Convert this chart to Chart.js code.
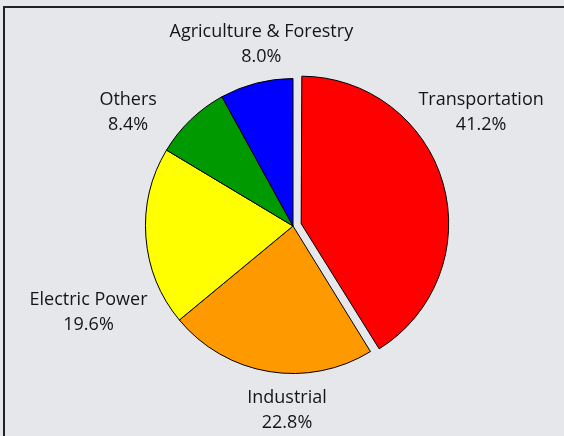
<!DOCTYPE html>
<html lang="en">
<head>
  <meta charset="UTF-8">
  <title>Emissions by Sector</title>
  <script src="https://cdn.jsdelivr.net/npm/chart.js"></script>
  <style>
    html, body { margin: 0; padding: 0; background: #e6e7eb; }
    canvas { display: block; }
  </style>
</head>
<body>
  <canvas id="sectorPie" width="564" height="436"></canvas>

  <script>
    // sectors, clockwise from 12 o'clock
    const sectors = ['Transportation', 'Industrial', 'Electric Power', 'Others', 'Agriculture & Forestry'];
    const shares = [41.2, 22.8, 19.6, 8.4, 8.0];
    const sliceColors = ['#ff0000', '#ff9900', '#ffff00', '#009900', '#0000ff'];
    // chart.js v4 moves an arc by offset / 4, so 34 pulls transportation out ~8.5px
    const pulledOut = [34, 0, 0, 0, 0];

    // where each two-line label sits: degrees rotated from the slice middle, distance from pie centre
    const labelTurn = [-15.4, -7.5, -18.6, -11.6, 4.5];
    const labelDist = [220, 184, 222, 200, 184];

    const frameAndLabels = {
      id: 'frameAndLabels',
      afterDatasetsUpdate(chart) {
        // an offset arc is also drawn with a bigger radius; take that back so
        // the pulled-out slice keeps the same size as the rest
        chart.getDatasetMeta(0).data.forEach(arc => {
          const off = (arc.options.offset || 0) / 4;
          const fix = 1 - Math.sin(Math.min(Math.PI, arc.circumference));
          arc.outerRadius -= off * fix;
        });
      },
      beforeDraw(chart) {
        const ctx = chart.ctx;
        ctx.save();
        ctx.fillStyle = '#e6e7eb';
        ctx.fillRect(0, 0, chart.width, chart.height);
        ctx.strokeStyle = '#222';
        ctx.lineWidth = 2;
        ctx.beginPath();
        ctx.moveTo(chart.width, 7);
        ctx.lineTo(4, 7);
        ctx.lineTo(4, chart.height);
        ctx.stroke();
        ctx.restore();
      },
      afterDatasetsDraw(chart) {
        const ctx = chart.ctx;
        const arcs = chart.getDatasetMeta(0).data;
        ctx.save();
        ctx.fillStyle = '#151515';
        ctx.font = '18px "Open Sans", sans-serif';
        ctx.textAlign = 'center';
        ctx.textBaseline = 'middle';
        arcs.forEach((arc, i) => {
          const a = (arc.startAngle + arc.endAngle) / 2 + labelTurn[i] * Math.PI / 180;
          const x = arc.x + Math.cos(a) * labelDist[i];
          const y = arc.y + Math.sin(a) * labelDist[i];
          ctx.fillText(sectors[i], x, y - 12.5);
          ctx.fillText(shares[i].toFixed(1) + '%', x, y + 12.5);
        });
        ctx.restore();
      }
    };

    new Chart(document.getElementById('sectorPie'), {
      type: 'pie',
      data: {
        labels: sectors,
        datasets: [{
          data: shares,
          backgroundColor: sliceColors,
          borderColor: '#000',
          borderWidth: 1,
          offset: pulledOut
        }]
      },
      options: {
        responsive: false,
        devicePixelRatio: 1,
        animation: false,
        events: [],
        radius: 147.5,
        layout: { padding: { left: 22, top: 16, right: 0, bottom: 0 } },
        plugins: {
          legend: { display: false },
          tooltip: { enabled: false }
        }
      },
      plugins: [frameAndLabels]
    });
  </script>
</body>
</html>
